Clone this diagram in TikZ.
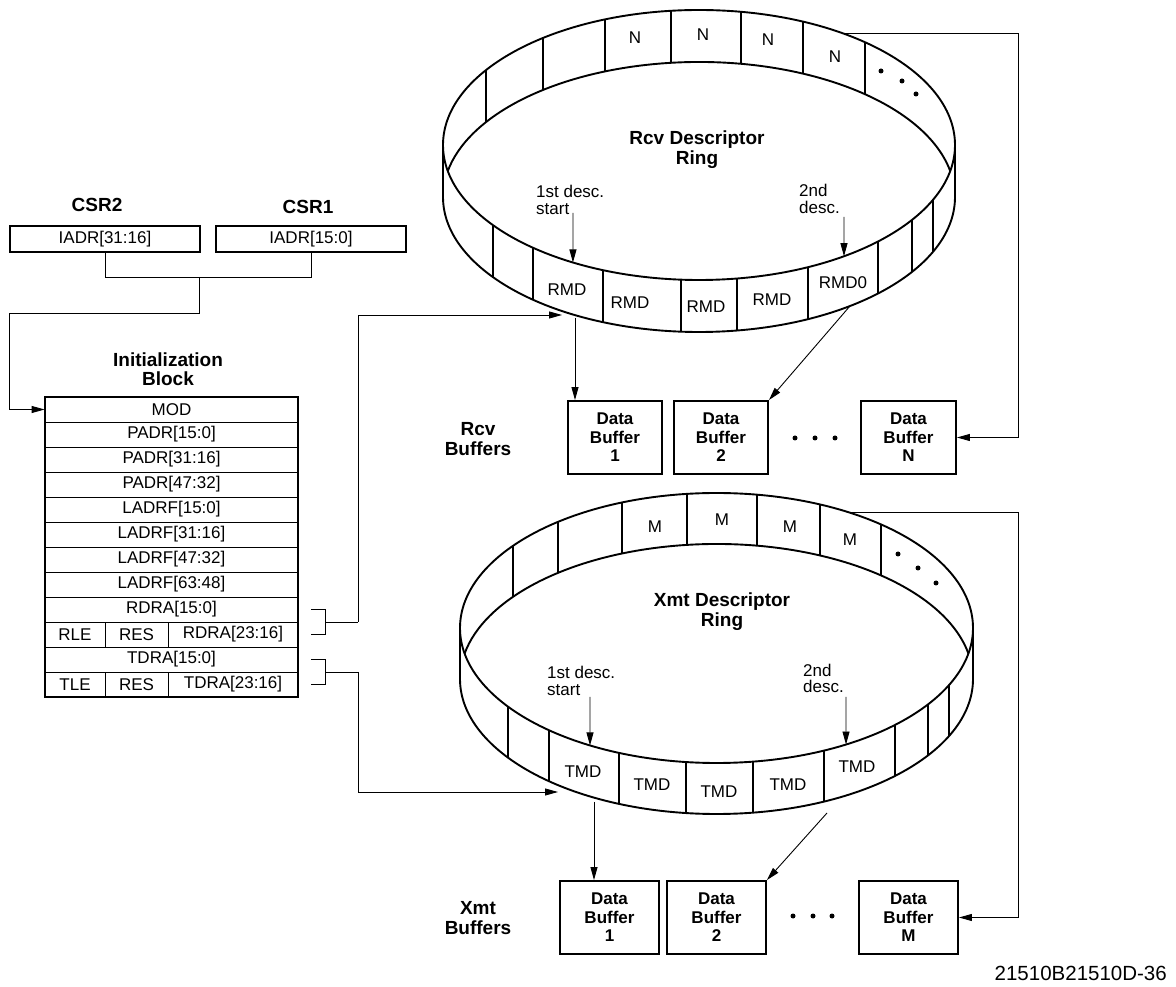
\documentclass[tikz,border=0pt]{standalone}
\usepackage{fontspec}
\setmainfont{Liberation Sans}
\usetikzlibrary{arrows.meta,calc}
\begin{document}
\begin{tikzpicture}[x=1pt,y=1pt,
  ring/.style={line width=1.9pt},
  conn/.style={line width=0.9pt},
  arr/.style={conn,-{Triangle[length=13pt,width=7pt]}},
  reg/.style={font=\fontsize{17}{17}\selectfont, inner sep=0pt},
  bold/.style={font=\fontsize{19}{20}\selectfont\bfseries, align=center, inner sep=0pt},
  cell/.style={draw, line width=0.8pt, minimum height=25pt, inner sep=0pt, font=\fontsize{17}{17}\selectfont},
  csr/.style={draw, line width=1.7pt, minimum width=190pt, minimum height=26pt, inner sep=0pt, font=\fontsize{17}{17}\selectfont},
  buf/.style={draw, line width=1.9pt, inner sep=0pt, align=center, font=\fontsize{17}{18.5}\selectfont\bfseries, minimum height=73pt},
  dotn/.style={fill, circle, inner sep=0pt, minimum size=5pt},
  desc/.style={font=\fontsize{17}{16.5}\selectfont, align=left, anchor=west, inner sep=0pt}]
\useasboundingbox (0,0) rectangle (1176,986);

% ---------- CSR registers ----------
\node[bold] (csr2l) at (97,781) {CSR2};
\node[bold] (csr1l) at (308,779) {CSR1};
\node[csr] (csr2b) at (105,747) {IADR[31:16]};
\node[csr] (csr1b) at (311,747) {IADR[15:0]};
\draw[conn] (csr2b.south) -- ++(0,-25) -| (csr1b.south);
\coordinate (jc) at (199,709);

% ---------- Initialization block ----------
\node[bold, font=\fontsize{19}{19}\selectfont\bfseries] (ibt) at (168,616.5) {Initialization\\Block};
\node[cell, minimum width=253pt] (r1) at (171.5,576.5) {MOD};
\node[cell, minimum width=253pt] (r2) at (171.5,551.5) {PADR[15:0]};
\node[cell, minimum width=253pt] (r3) at (171.5,526.5) {PADR[31:16]};
\node[cell, minimum width=253pt] (r4) at (171.5,501.5) {PADR[47:32]};
\node[cell, minimum width=253pt] (r5) at (171.5,476.5) {LADRF[15:0]};
\node[cell, minimum width=253pt] (r6) at (171.5,451.5) {LADRF[31:16]};
\node[cell, minimum width=253pt] (r7) at (171.5,426.5) {LADRF[47:32]};
\node[cell, minimum width=253pt] (r8) at (171.5,401.5) {LADRF[63:48]};
\node[cell, minimum width=253pt] (r9) at (171.5,376.5) {RDRA[15:0]};
\node[cell, minimum width=60pt] (r10a) at (75,351.5) {RLE};
\node[cell, minimum width=63pt] (r10b) at (136.5,351.5) {RES};
\node[cell, minimum width=130pt] (r10c) at (233,351.5) {RDRA[23:16]};
\node[cell, minimum width=253pt] (r11) at (171.5,326.5) {TDRA[15:0]};
\node[cell, minimum width=60pt] (r12a) at (75,301.5) {TLE};
\node[cell, minimum width=63pt] (r12b) at (136.5,301.5) {RES};
\node[cell, minimum width=130pt] (r12c) at (233,301.5) {TDRA[23:16]};
\draw[line width=1.9pt] (r1.north west) rectangle (r12c.south east);

\draw[arr] (jc) -- (199,673) -- (9,673) |- (r1.west);

% brackets
\draw[conn] ($(r9.east)+(13,0)$) -- ++(14,0) |- ($(r10c.east)+(13,0)$);
\draw[conn] ($(r11.east)+(13,0)$) -- ++(14,0) |- ($(r12c.east)+(13,0)$);

% ---------- Rcv descriptor ring ----------
\coordinate (rc1) at (699,841);
\coordinate (rc2) at (699,789);
\draw[ring] (rc1) ellipse [x radius=256, y radius=135];
\draw[ring] ($(rc2)+(180:256 and 135)$) arc[start angle=180, end angle=360, x radius=256, y radius=135];
\draw[ring] ($(rc2)+(11.1:256 and 135)$) arc[start angle=11.1, end angle=168.9, x radius=256, y radius=135];
\draw[ring] ($(rc1)+(180:256 and 135)$) -- ($(rc2)+(180:256 and 135)$);
\draw[ring] ($(rc1)+(0:256 and 135)$) -- ($(rc2)+(0:256 and 135)$);
\foreach \xx in {486,543,605,671,741,803,865} {
  \pgfmathsetmacro\myang{acos((\xx-699)/256)}
  \draw[ring] ($(rc1)+(\myang:256 and 135)$) -- ($(rc2)+(\myang:256 and 135)$);
}
\foreach \xx in {493,533,603,681,737,808,878,912,933} {
  \pgfmathsetmacro\myang{-acos((\xx-699)/256)}
  \draw[ring] ($(rc1)+(\myang:256 and 135)$) -- ($(rc2)+(\myang:256 and 135)$);
}
\node[reg] (rn1) at (635,948) {N};
\node[reg] (rn2) at (703,951) {N};
\node[reg] (rn3) at (768,946) {N};
\node[reg] (rn4) at (835,929) {N};
\node[dotn] (rdt1) at (881,915) {};
\node[dotn] (rdt2) at (902,905) {};
\node[dotn] (rdt3) at (916,892) {};
\node[reg] (rm1) at (567,696) {RMD};
\node[reg] (rm2) at (630,683) {RMD};
\node[reg] (rm3) at (706,679) {RMD};
\node[reg] (rm4) at (772,686) {RMD};
\node[reg] (rm5) at (843,703) {RMD0};
\node[bold] (rtitle) at (697,836) {Rcv Descriptor\\Ring};
\node[desc] (rl1) at (536,786) {1st desc.\\start};
\node[desc] (rl2) at (799,787) {2nd\\desc.};
\coordinate (ra1s) at (573,773);
\coordinate (ra1e) at ($(rc1)+(-119.5:256 and 135)$);
\coordinate (ra2s) at (844,769);
\coordinate (ra2e) at ($(rc1)+(-55.5:256 and 135)$);
\draw[arr] (ra1s) -- (ra1e);
\draw[arr] (ra2s) -- (ra2e);

% ---------- Xmt descriptor ring ----------
\coordinate (xc1) at (716.5,358);
\coordinate (xc2) at (716.5,307);
\draw[ring] (xc1) ellipse [x radius=256.5, y radius=135];
\draw[ring] ($(xc2)+(180:256.5 and 135)$) arc[start angle=180, end angle=360, x radius=256.5, y radius=135];
\draw[ring] ($(xc2)+(10.9:256.5 and 135)$) arc[start angle=10.9, end angle=169.1, x radius=256.5, y radius=135];
\draw[ring] ($(xc1)+(180:256.5 and 135)$) -- ($(xc2)+(180:256.5 and 135)$);
\draw[ring] ($(xc1)+(0:256.5 and 135)$) -- ($(xc2)+(0:256.5 and 135)$);
\foreach \xx in {513,558,622,687,757,820,881} {
  \pgfmathsetmacro\myang{acos((\xx-716.5)/256.5)}
  \draw[ring] ($(xc1)+(\myang:256.5 and 135)$) -- ($(xc2)+(\myang:256.5 and 135)$);
}
\foreach \xx in {508,549,619,686,753,824,895,928,949} {
  \pgfmathsetmacro\myang{-acos((\xx-716.5)/256.5)}
  \draw[ring] ($(xc1)+(\myang:256.5 and 135)$) -- ($(xc2)+(\myang:256.5 and 135)$);
}
\node[reg] (xm1) at (655,459) {M};
\node[reg] (xm2) at (722,466) {M};
\node[reg] (xm3) at (790,459) {M};
\node[reg] (xm4) at (850,446) {M};
\node[dotn] (xdt1) at (898,432) {};
\node[dotn] (xdt2) at (918,418) {};
\node[dotn] (xdt3) at (936,403) {};
\node[reg] (xt1) at (583,214) {TMD};
\node[reg] (xt2) at (652,201) {TMD};
\node[reg] (xt3) at (719,194) {TMD};
\node[reg] (xt4) at (788,201) {TMD};
\node[reg] (xt5) at (857,219) {TMD};
\node[bold] (xtitle) at (722,374) {Xmt Descriptor\\Ring};
\node[desc] (xl1) at (547,305) {1st desc.\\start};
\node[desc] (xl2) at (803,307.5) {2nd\\desc.};
\coordinate (xa1s) at (590,289);
\coordinate (xa1e) at ($(xc1)+(-119.55:256.5 and 135)$);
\coordinate (xa2s) at (846,289);
\coordinate (xa2e) at ($(xc1)+(-59.67:256.5 and 135)$);
\draw[arr] (xa1s) -- (xa1e);
\draw[arr] (xa2s) -- (xa2e);

% ---------- ring pointers from the init block ----------
\coordinate (rin) at (562,671);
\coordinate (tin) at (558,194);
\draw[conn] ($(r9.east)!0.5!(r10c.east)+(27,0)$) -- (358,364) coordinate (jr2);
\draw[arr] (jr2) |- (rin);
\draw[conn] ($(r11.east)!0.5!(r12c.east)+(27,0)$) -- (358,314) coordinate (jt2);
\draw[arr] (jt2) |- (tin);

% ---------- Rcv buffers ----------
\node[bold] (rbl) at (478,546.5) {Rcv\\Buffers};
\node[buf, minimum width=94pt] (rb1) at (615,548.5) {Data\\Buffer\\1};
\node[buf, minimum width=94pt] (rb2) at (721,548.5) {Data\\Buffer\\2};
\node[buf, minimum width=95pt] (rbN) at (908.5,548.5) {Data\\Buffer\\N};
\node[dotn] (rbd1) at (795,548) {};
\node[dotn] (rbd2) at (815,548) {};
\node[dotn] (rbd3) at (835,548) {};
\coordinate (rs1) at (575,668);
\coordinate (rs2) at ($(rc2)+(-53.86:256 and 135)$);
\coordinate (rs3) at ($(rc1)+(56:256 and 135)$);
\coordinate (rv) at (1018,0);
\draw[arr] (rs1) -- (rs1 |- rb1.north);
\draw[arr] (rs2) -- (rb2.north east);
\draw[arr] (rs3) -- (rs3 -| rv) |- (rbN.east);

% ---------- Xmt buffers ----------
\node[bold] (xbl) at (478,67.5) {Xmt\\Buffers};
\node[buf, minimum width=99pt] (xb1) at (609.5,68.5) {Data\\Buffer\\1};
\node[buf, minimum width=99pt] (xb2) at (716.5,68.5) {Data\\Buffer\\2};
\node[buf, minimum width=99pt] (xbM) at (908.5,68.5) {Data\\Buffer\\M};
\node[dotn] (xbd1) at (793,70) {};
\node[dotn] (xbd2) at (813,70) {};
\node[dotn] (xbd3) at (832,70) {};
\coordinate (xs1) at (594,184);
\coordinate (xs2) at (827,173);
\coordinate (xs3) at ($(xc1)+(58.63:256.5 and 135)$);
\draw[arr] (xs1) -- (xs1 |- xb1.north);
\draw[arr] (xs2) -- (xb2.north east);
\draw[arr] (xs3) -- (xs3 -| rv) |- (xbM.east);

% ---------- figure number ----------
\node[font=\fontsize{20.5}{20.5}\selectfont, anchor=east, inner sep=0pt] (fig) at (1167,13) {21510B21510D-36};
\end{tikzpicture}
\end{document}
